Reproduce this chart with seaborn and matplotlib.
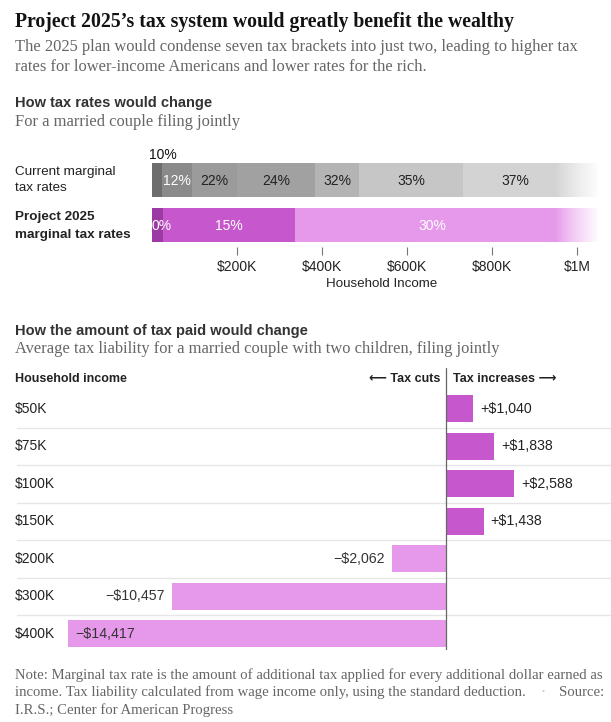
import numpy as np
import seaborn as sns
import matplotlib.pyplot as plt
from matplotlib import transforms

# top chart: marginal brackets (upper edge of each bracket, last one is where the bar fades out)
current_rates = [10, 12, 22, 24, 32, 35, 37]
current_tops = [23200, 94300, 201050, 383900, 487450, 731200, 1050000]
current_colors = ["#6d6d6d", "#8a8a8a", "#9b9b9b", "#a1a1a1", "#b4b4b4", "#c6c6c6", "#d3d3d3"]
current_text = ["#111111", "#ffffff", "#222222", "#222222", "#222222", "#222222", "#222222"]

project_rates = [0, 15, 30]
project_tops = [25000, 337200, 1050000]
project_colors = ["#9b3aa3", "#c757cc", "#e699ea"]

income_ticks = [200000, 400000, 600000, 800000, 1000000]
income_labels = ["$200K", "$400K", "$600K", "$800K", "$1M"]

# bottom chart: change in tax liability
households = ["$50K", "$75K", "$100K", "$150K", "$200K", "$300K", "$400K"]
tax_change = [1040, 1838, 2588, 1438, -2062, -10457, -14417]

sns.set_style("white")
SANS = ["Liberation Sans", "DejaVu Sans"]
SERIF = ["Liberation Serif", "DejaVu Serif"]
plt.rcParams["font.family"] = SANS

W, H = 611, 722
fig = plt.figure(figsize=(W / 100, H / 100), dpi=100)


def fx(px):
    return px / W


def fy(py):
    return 1 - py / H


def ax_px(left, top, right, bottom):
    return fig.add_axes([left / W, 1 - bottom / H, (right - left) / W, (bottom - top) / H])


SUB = 11.9
# headings
fig.text(fx(15), fy(22), "Project 2025\u2019s tax system would greatly benefit the wealthy",
         family=SERIF, weight="bold", size=14.2, color="#121212", va="center")
fig.text(fx(15), fy(47), "The 2025 plan would condense seven tax brackets into just two, leading to higher tax",
         family=SERIF, size=SUB, color="#666666", va="center")
fig.text(fx(15), fy(67), "rates for lower-income Americans and lower rates for the rich.",
         family=SERIF, size=SUB, color="#666666", va="center")
fig.text(fx(15), fy(103), "How tax rates would change", weight="bold", size=10.5, color="#333333", va="center")
fig.text(fx(15), fy(122), "For a married couple filing jointly", family=SERIF, size=SUB,
         color="#666666", va="center")

# ---- top chart
ax1 = ax_px(152, 160, 611, 247)
bar_h = 0.756
for r, (tops, colors) in enumerate([(current_tops, current_colors), (project_tops, project_colors)]):
    lefts = [0] + tops[:-1]
    widths = np.diff([0] + tops)
    ax1.barh([r] * len(tops), widths, left=lefts, height=bar_h, color=colors, linewidth=0)

# fade out the open-ended last bracket
grad = np.ones((1, 256, 4))
grad[..., 3] = np.linspace(0, 1, 256) ** 0.8
for r in (0, 1):
    ax1.imshow(grad, extent=[950000, 1052000, r + 0.4, r - 0.4], aspect="auto", zorder=3,
               interpolation="bilinear")

BAR_TXT = 10
label_cap = 980000
for i, rate in enumerate(current_rates):
    lo = 0 if i == 0 else current_tops[i - 1]
    hi = min(current_tops[i], label_cap)
    if i == 0:
        ax1.text(lo - 8000, -0.56, f"{rate}%", ha="left", va="center", size=BAR_TXT, color=current_text[i])
    else:
        ax1.text((lo + hi) / 2, 0.02, f"{rate}%", ha="center", va="center", size=BAR_TXT,
                 color=current_text[i])
for i, rate in enumerate(project_rates):
    lo = 0 if i == 0 else project_tops[i - 1]
    hi = min(project_tops[i], label_cap)
    if i == 0:
        ax1.text(lo, 1.02, f"{rate}%", ha="left", va="center", size=BAR_TXT, color="white")
    else:
        ax1.text((lo + hi) / 2, 1.02, f"{rate}%", ha="center", va="center", size=BAR_TXT, color="white")

ax1.set_xlim(0, (611 - 152) / 0.425e-3)
ax1.set_ylim(1.489, -0.444)
ax1.set_xticks(income_ticks, income_labels)
ax1.set_yticks([])
ax1.tick_params(axis="x", bottom=True, direction="out", length=6, width=0.8, color="#777777",
                pad=3.5, labelsize=10, labelcolor="#222222")
ax1.set_xlabel("Household Income", size=9.6, color="#222222", labelpad=3)
sns.despine(ax=ax1, left=True, bottom=True)

fig.text(fx(15), fy(172), "Current marginal", size=9.7, color="#222222", va="center")
fig.text(fx(15), fy(188), "tax rates", size=9.7, color="#222222", va="center")
fig.text(fx(15), fy(217), "Project 2025", size=9.7, weight="bold", color="#222222", va="center")
fig.text(fx(15), fy(235), "marginal tax rates", size=9.7, weight="bold", color="#222222", va="center")

# ---- bottom chart
fig.text(fx(15), fy(331), "How the amount of tax paid would change", weight="bold", size=10.5,
         color="#333333", va="center")
fig.text(fx(15), fy(349), "Average tax liability for a married couple with two children, filing jointly",
         family=SERIF, size=SUB, color="#666666", va="center")

px_per_dollar = 0.026219
ax2 = ax_px(15, 368, 611, 650)
direction = ["increase" if v > 0 else "cut" for v in tax_change]
sns.barplot(x=tax_change, y=households, hue=direction, orient="h", dodge=False, legend=False,
            palette={"increase": "#c757cc", "cut": "#e699ea"}, width=0.72, linewidth=0,
            saturation=1, ax=ax2, zorder=2)
ax2.set_xlim(-(446 - 15) / px_per_dollar, (611 - 446) / px_per_dollar)
ax2.set_ylim(6.427, -1.093)
for y in np.arange(0.5, len(households) - 1, 1):
    ax2.axhline(y, xmin=0.003, xmax=1, color="#e6e6e6", lw=1, zorder=0)
ax2.axvline(0, color="#666666", lw=0.9, zorder=4)

VAL_TXT = 10.2
row_tf = transforms.blended_transform_factory(ax2.transAxes, ax2.transData)
for i, (name, v) in enumerate(zip(households, tax_change)):
    ax2.text(0, i, name, transform=row_tf, ha="left", va="center", size=10, color="#222222")
    gap = 7 / px_per_dollar
    if v > 0:
        ax2.text(v + gap, i, f"+${v:,}", ha="left", va="center", size=VAL_TXT, color="#222222")
    elif 446 + v * px_per_dollar - 70 > 80:
        ax2.text(v - gap, i, f"\u2212${-v:,}", ha="right", va="center", size=VAL_TXT, color="#333333")
    else:
        ax2.text(v + gap, i, f"\u2212${-v:,}", ha="left", va="center", size=VAL_TXT, color="#333333")

ax2.text(0, -0.8, "Household income", transform=row_tf, ha="left", va="center", size=9,
         weight="bold", color="#222222")
ax2.text(-6 / px_per_dollar, -0.8, "\u27f5 Tax cuts", ha="right", va="center", size=9,
         weight="bold", color="#222222", family=SANS)
ax2.text(7 / px_per_dollar, -0.8, "Tax increases \u27f6", ha="left", va="center", size=9,
         weight="bold", color="#222222", family=SANS)
ax2.set(xlabel="", ylabel="", xticks=[], yticks=[])
sns.despine(ax=ax2, left=True, bottom=True)

# footnote
FOOT = 10.6
fig.text(fx(15), fy(675), "Note: Marginal tax rate is the amount of additional tax applied for every additional dollar earned as",
         family=SERIF, size=FOOT, color="#666666", va="center")
note2 = fig.text(fx(15), fy(692), "income. Tax liability calculated from wage income only, using the standard deduction.",
                 family=SERIF, size=FOOT, color="#666666", va="center")
renderer = fig.canvas.get_renderer()
end_px = note2.get_window_extent(renderer).x1
fig.text(fx(end_px + 17), fy(692), "\u2022", family=SANS, size=6, color="#cccccc", va="center", ha="center")
fig.text(fx(end_px + 33), fy(692), "Source:", family=SERIF, size=FOOT, color="#666666", va="center")
fig.text(fx(15), fy(710), "I.R.S.; Center for American Progress",
         family=SERIF, size=FOOT, color="#666666", va="center")

fig.savefig("out.png", dpi=100)
